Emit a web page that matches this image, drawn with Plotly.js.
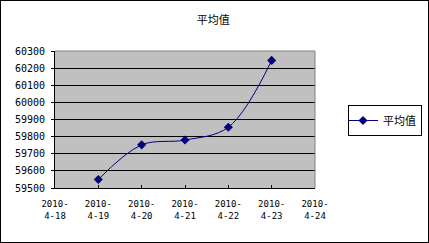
<!DOCTYPE html>
<html><head><meta charset="utf-8">
<script src="https://cdn.plot.ly/plotly-3.0.1.min.js"></script>
<style>
html,body{margin:0;padding:0;background:#fff;}
#wrap{width:427px;height:241px;border:1px solid #000;}
#chart{width:427px;height:241px;}
</style></head><body>
<div id="wrap"><div id="chart"></div></div>
<script>
const categories = ["2010-4-18","2010-4-19","2010-4-20","2010-4-21","2010-4-22","2010-4-23","2010-4-24"];
const tickLabels = ["2010-<br>4-18","2010-<br>4-19","2010-<br>4-20","2010-<br>4-21","2010-<br>4-22","2010-<br>4-23","2010-<br>4-24"];
const dates = ["2010-4-19","2010-4-20","2010-4-21","2010-4-22","2010-4-23"];
const averages = [59550, 59752, 59780, 59855, 60245];
const yTicks = [59500,59600,59700,59800,59900,60000,60100,60200,60300];

const trace = {
  x: dates, y: averages, type: 'scatter', mode: 'lines+markers', name: '平均值',
  line: {color: '#000080', width: 1, shape: 'spline', smoothing: 1},
  marker: {symbol: 'diamond', size: 7, color: '#000080'}
};
const layout = {
  width: 427, height: 241,
  margin: {l: 54, r: 113, t: 50, b: 54},
  paper_bgcolor: '#fff', plot_bgcolor: '#C0C0C0',
  font: {family: '"Noto Sans CJK SC", sans-serif', size: 11, color: '#000'},
  title: {text: '平均值', x: 0.497, xanchor: 'center', y: 0.92, yanchor: 'middle',
          font: {family: '"Noto Sans CJK SC", sans-serif', size: 11, color: '#000'}},
  showlegend: true,
  legend: {x: 347/427, xanchor: 'left', y: 1 - 104/241, yanchor: 'top', yref: 'container', xref: 'container',
           bordercolor: '#000', borderwidth: 1, bgcolor: '#fff', itemwidth: 30,
           tracegroupgap: 0, indentation: -6,
           font: {family: '"Noto Sans CJK SC", sans-serif', size: 11, color: '#000'}},
  xaxis: {type: 'category', categoryorder: 'array', categoryarray: categories,
          range: [0, 6], tickmode: 'array', tickvals: categories, ticktext: tickLabels,
          ticks: 'inside', ticklen: 3, tickcolor: '#000', showgrid: false, ticklabelstandoff: 7,
          showline: true, linecolor: '#000', linewidth: 1, mirror: false, zeroline: false,
          tickfont: {family: '"DejaVu Sans Mono", monospace', size: 9, color: '#000'}},
  yaxis: {range: [59500, 60300], tickmode: 'array', tickvals: yTicks, ticktext: yTicks.map(String),
          ticks: 'outside', ticklen: 3, tickcolor: '#000', showgrid: true, gridcolor: '#000', gridwidth: 1,
          showline: true, linecolor: '#000', linewidth: 1, zeroline: false, ticklabelstandoff: 4,
          tickfont: {family: '"DejaVu Sans Mono", monospace', size: 10, color: '#000'}},
  shapes: [
    {type: 'line', xref: 'paper', yref: 'paper', x0: 0, x1: 1, y0: 1, y1: 1, line: {color: '#808080', width: 1}},
    {type: 'line', xref: 'paper', yref: 'paper', x0: 1, x1: 1, y0: 0, y1: 1, line: {color: '#808080', width: 1}}
  ]
};
Plotly.newPlot('chart', [trace], layout, {displayModeBar: false, staticPlot: true});
</script></body></html>
